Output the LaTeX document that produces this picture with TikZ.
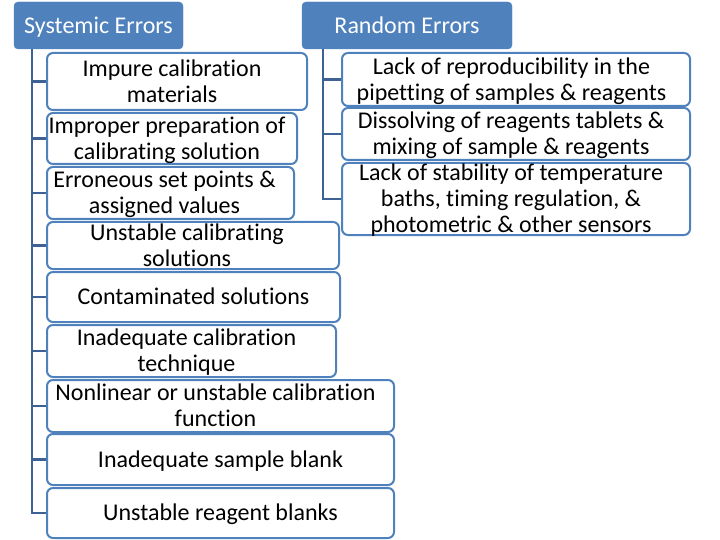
\documentclass[tikz,border=0pt]{standalone}
\usepackage{fontspec}
\setmainfont[Ligatures=NoCommon]{Carlito}
\definecolor{hdr}{HTML}{4F81BD}
\definecolor{bord}{HTML}{4F81BD}
\definecolor{conn}{HTML}{3C6296}
\newcommand{\boxtext}[2][0pt]{\begin{tabular}{@{}c@{}}#2\end{tabular}\kern#1}
\begin{document}
\begin{tikzpicture}[x=1pt,y=-1pt,
  hdrbox/.style={fill=hdr, draw=hdr, rounded corners=4pt, text=white, inner sep=0pt,
    text height=21pt, text depth=5pt, font=\fontsize{24}{26}\selectfont},
  itembox/.style={draw=bord, line width=2pt, rounded corners=6pt, fill=white,
    inner sep=0pt, text height=18pt, text depth=0pt, font=\fontsize{24}{26}\selectfont},
  conline/.style={draw=conn, line width=2.5pt}]
\useasboundingbox (0,0) rectangle (720,540);

% headers
\node[hdrbox, minimum width=169pt, minimum height=47pt] (sys) at (98.5,25.5) {Systemic Errors};
\node[hdrbox, minimum width=210pt, minimum height=47pt] (rand) at (407,25.5) {Random Errors};

\coordinate (sysTop) at (32,49);
\coordinate (randTop) at (323,49);

% systemic items
\path
  (177,81.5)   node[itembox, minimum width=260pt, minimum height=57pt] (s1) {\boxtext[10pt]{Impure calibration\\materials}}
  (172,138.5)  node[itembox, minimum width=250pt, minimum height=51pt] (s2) {\boxtext[10pt]{Improper preparation of\\calibrating solution}}
  (170.5,193)  node[itembox, minimum width=247pt, minimum height=52pt] (s3) {\boxtext[12pt]{Erroneous set points \&\\assigned values}}
  (193,245.5)  node[itembox, minimum width=292pt, minimum height=47pt] (s4) {\boxtext[12pt]{Unstable calibrating\\solutions}}
  (193.5,297)  node[itembox, minimum width=293pt, minimum height=50pt] (s5) {\boxtext{Contaminated solutions}}
  (191.5,351)  node[itembox, minimum width=289pt, minimum height=52pt] (s6) {\boxtext[10pt]{Inadequate calibration\\technique}}
  (220.5,406)  node[itembox, minimum width=347pt, minimum height=52pt] (s7) {\boxtext[10pt]{Nonlinear or unstable calibration\\function}}
  (220.5,459.5) node[itembox, minimum width=347pt, minimum height=51pt] (s8) {\boxtext{Inadequate sample blank}}
  (220.5,513)  node[itembox, minimum width=347pt, minimum height=50pt] (s9) {\boxtext{Unstable reagent blanks}};

% random items
\path
  (516,79.5) node[itembox, minimum width=348pt, minimum height=53pt] (r1) {\boxtext[9pt]{Lack of reproducibility in the\\pipetting of samples \& reagents}}
  (516,134)  node[itembox, minimum width=348pt, minimum height=52pt] (r2) {\boxtext[10pt]{Dissolving of reagents tablets \&\\mixing of sample \& reagents}}
  (516,199)  node[itembox, minimum width=348pt, minimum height=72pt] (r3) {\boxtext[10pt]{Lack of stability of temperature\\baths, timing regulation, \&\\photometric \& other sensors}};

% connectors
\draw[conline] (sysTop) |- (s9.west);
\foreach \n in {s1,s2,s3,s4,s5,s6,s7,s8}
  \draw[conline] (sysTop |- \n.west) -- (\n.west);
\draw[conline] (randTop) |- (r3.west);
\foreach \n in {r1,r2}
  \draw[conline] (randTop |- \n.west) -- (\n.west);
\end{tikzpicture}
\end{document}
